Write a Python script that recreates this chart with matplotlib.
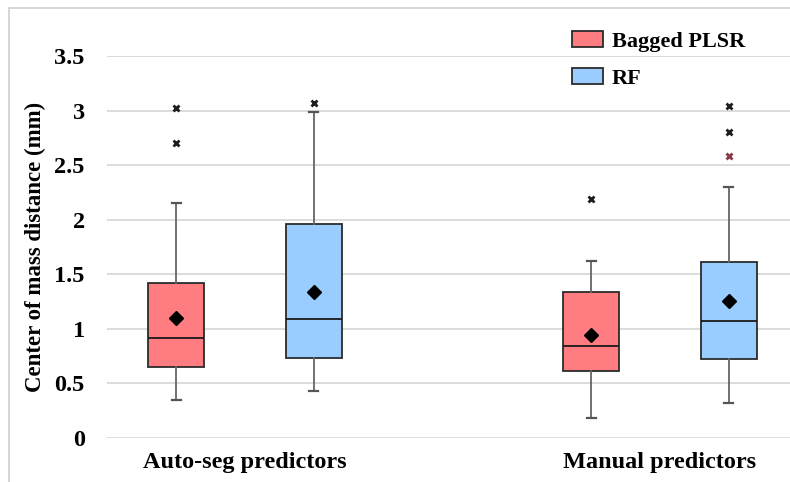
import matplotlib
matplotlib.use("Agg")
import matplotlib.pyplot as plt
from matplotlib.patches import Patch, Rectangle

groups = ["Auto-seg predictors", "Manual predictors"]
series = ["Bagged PLSR", "RF"]
colors = ["#FF7C80", "#99CCFF"]

# stats per group, per series: [whislo, q1, med, q3, whishi, mean]
plsr_stats = [[0.35, 0.655, 0.92, 1.42, 2.155, 1.10],
              [0.18, 0.617, 0.845, 1.335, 1.625, 0.947]]
rf_stats = [[0.435, 0.736, 1.088, 1.962, 2.985, 1.338],
            [0.318, 0.721, 1.072, 1.610, 2.30, 1.253]]
plsr_outliers = [[3.02, 2.70], [2.19]]
rf_outliers = [[3.07], [3.046, 2.80]]
rf_outliers_red = [[], [2.58]]

yticks = [0, 0.5, 1, 1.5, 2, 2.5, 3, 3.5]
ytick_labels = ["0", "0.5", "1", "1.5", "2", "2.5", "3", "3.5"]

plt.rcParams['font.family'] = ['Liberation Serif', 'DejaVu Serif']

fig = plt.figure(figsize=(7.9, 4.82), dpi=100)
W, H = 790, 482
ax = fig.add_axes([107 / W, 1 - 438 / H, (790 - 107) / W, (438 - 56) / H])

offset = 0.166
bw = 0.135
all_stats = [plsr_stats, rf_stats]
all_out = [plsr_outliers, rf_outliers]
flier_kw = dict(marker="x", markersize=5, markeredgewidth=2.0, linestyle="none")
for si in range(2):
    bxs = []
    pos = []
    for gi in range(2):
        s = all_stats[si][gi]
        bxs.append(dict(whislo=s[0], q1=s[1], med=s[2], q3=s[3], whishi=s[4],
                        mean=s[5], fliers=all_out[si][gi]))
        pos.append(gi + (-offset if si == 0 else offset))
    ax.bxp(bxs, positions=pos, widths=bw, patch_artist=True, showmeans=True,
           capwidths=0.022,
           boxprops=dict(facecolor=colors[si], edgecolor="#2b2b2b", linewidth=1.3),
           medianprops=dict(color="#1a1a1a", linewidth=1.3),
           whiskerprops=dict(color="#666666", linewidth=1.3),
           capprops=dict(color="#555555", linewidth=1.6),
           meanprops=dict(marker="D", markerfacecolor="black", markeredgecolor="black",
                          markersize=7.5),
           flierprops=dict(markeredgecolor="#1e1e1e", **flier_kw), zorder=3)
    if si == 1:
        for gi in range(2):
            if rf_outliers_red[gi]:
                ax.plot([pos[gi]] * len(rf_outliers_red[gi]), rf_outliers_red[gi],
                        markeredgecolor="#8a3a48", zorder=4, **flier_kw)

ax.set_xlim(-138 / 415, 1 + (790 - 660) / 415)
ax.set_ylim(0, 3.5)
ax.set_yticks(yticks)
ax.set_yticklabels(ytick_labels, fontsize=17.5, fontweight="bold")
ax.set_xticks([0, 1])
ax.set_xticklabels(groups, fontsize=17.5, fontweight="bold")
ax.tick_params(axis="y", length=0, pad=16)
ax.tick_params(axis="x", length=0, pad=10)
ax.grid(axis="y", color="#D9D9D9", linewidth=1.3, zorder=0)
ax.set_axisbelow(True)
for sp in ax.spines.values():
    sp.set_visible(False)
ax.set_ylabel("Center of mass distance (mm)", fontsize=16.5, fontweight="bold")
ax.yaxis.set_label_coords(-(107 - 46) / 683, 0.5)

handles = [Patch(facecolor=colors[i], edgecolor="#2b2b2b", linewidth=1.3, label=series[i])
           for i in range(2)]
leg = ax.legend(handles=handles, loc="upper left", bbox_to_anchor=(552 / W, 1 - 11 / H),
                bbox_transform=fig.transFigure, frameon=False,
                prop=dict(size=16, weight="bold"), handlelength=1.4, handleheight=0.7,
                labelspacing=0.75, handletextpad=0.4)

fig.patches.append(Rectangle((9 / W, -0.1), 1.2, 1 - 8 / H + 0.1, transform=fig.transFigure,
                             fill=False, edgecolor="#D0D0D0", linewidth=1.2))

fig.savefig("out.png", dpi=100)
